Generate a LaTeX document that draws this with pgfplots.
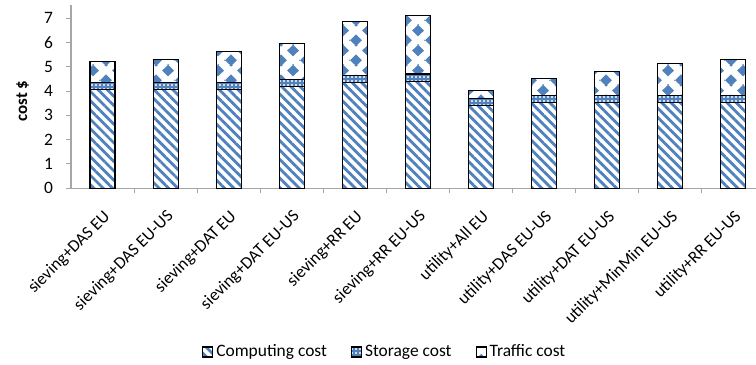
\documentclass[border=0pt]{standalone}
\usepackage{pgfplots}
\pgfplotsset{compat=1.18}
\usepackage{fontspec}
\setmainfont{Carlito}
\usetikzlibrary{patterns.meta}
\definecolor{xblue}{HTML}{4F81BD}
\definecolor{axgray}{HTML}{A6A6A6}
\tikzdeclarepattern{
  name=diamondgrid,
  type=uncolored,
  bounding box={(0,0) and (25bp,20bp)},
  tile size={(25bp,20bp)},
  code={
    \foreach \dx in {-25,0,25}{
      \foreach \dy in {-20,0,20}{
        \fill (6.25bp+\dx bp,-1bp+\dy bp) -- (12.4bp+\dx bp,5bp+\dy bp) -- (6.25bp+\dx bp,11bp+\dy bp) -- (0.1bp+\dx bp,5bp+\dy bp) -- cycle;
        \fill (18.75bp+\dx bp,9bp+\dy bp) -- (24.9bp+\dx bp,15bp+\dy bp) -- (18.75bp+\dx bp,21bp+\dy bp) -- (12.6bp+\dx bp,15bp+\dy bp) -- cycle;
      }
    }
  }
}
\begin{document}
\fontsize{17.5}{21}\selectfont
\begin{tikzpicture}
\useasboundingbox (0,0) rectangle (756bp,365bp);
\begin{axis}[
  at={(71bp,176.7bp)}, anchor=south west,
  scale only axis, width=685bp, height=183.3bp,
  ybar stacked, bar width=25bp,
  xmin=-0.5, xmax=10.36, ymin=0, ymax=7.54,
  axis x line*=bottom, axis y line*=left,
  axis line style={axgray, line width=1.2bp, -},
  tick align=outside,
  ytick={0,1,...,7},
  ytick style={axgray, line width=1bp},
  major tick length=5bp,
  xtick={0,...,10},
  xticklabels={sieving+DAS EU, sieving+DAS EU-US, sieving+DAT EU, sieving+DAT EU-US, sieving+RR EU, sieving+RR EU-US, utility+All EU, utility+DAS EU-US, utility+DAT EU-US, utility+MinMin EU-US, utility+RR EU-US},
  every major x tick/.style={draw=none},
  minor xtick={0.5,1.5,...,9.5},
  every minor x tick/.style={axgray, line width=1bp},
  minor tick length=5bp,
  /pgf/number format/assume math mode=true,
  tick label style={font=\fontsize{17.5}{21}\selectfont},
  xticklabel style={font=\fontsize{17.3}{20}\selectfont, anchor=east, xshift=6bp, yshift=-20bp, rotate=45, inner sep=1bp},
  yticklabel style={xshift=-7bp},
  ylabel={\textbf{cost \$}},
  ylabel style={at={(axis description cs:-0.0708,0.476)}, anchor=center, font=\fontsize{17}{20}\selectfont},
  legend columns=3,
  legend style={draw=none, at={(axis description cs:0.458,-0.893)}, anchor=center,
    font=\fontsize{17.5}{21}\selectfont, column sep=1bp, inner sep=0pt,
    /tikz/every even column/.append style={column sep=22bp}},
  legend image code/.code={\draw[#1] (0bp,-5bp) rectangle (10bp,5bp);},
]
\addplot+[draw=black, line width=1.1bp, fill=white,
  pattern={Lines[angle=-45, distance=6.6bp, line width=2.8bp]}, pattern color=xblue]
  coordinates {(0,4.07) (1,4.07) (2,4.07) (3,4.18) (4,4.35) (5,4.40) (6,3.40) (7,3.52) (8,3.52) (9,3.52) (10,3.52)};
\addplot+[draw=black, line width=1.1bp, fill=xblue,
  postaction={pattern={Dots[distance=4bp, radius=1.2bp]}, pattern color=white}]
  coordinates {(0,0.30) (1,0.30) (2,0.30) (3,0.30) (4,0.30) (5,0.30) (6,0.30) (7,0.30) (8,0.30) (9,0.30) (10,0.30)};
\addplot+[draw=black, line width=1.1bp, fill=white,
  pattern=diamondgrid, pattern color=xblue]
  coordinates {(0,0.84) (1,0.91) (2,1.25) (3,1.46) (4,2.22) (5,2.42) (6,0.33) (7,0.69) (8,0.99) (9,1.31) (10,1.48)};
\legend{Computing cost, Storage cost, Traffic cost}
\end{axis}
\end{tikzpicture}
\end{document}
